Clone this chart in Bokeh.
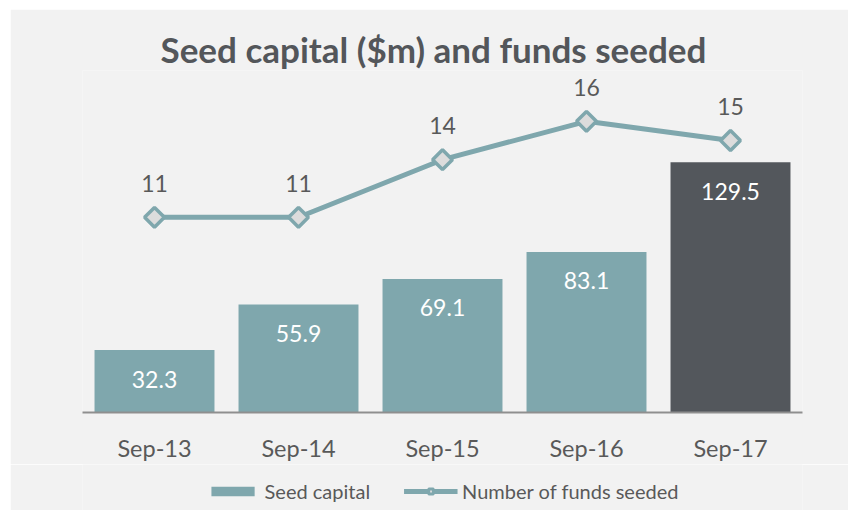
from bokeh.plotting import figure
from bokeh.models import Range1d, ColumnDataSource, Legend, LegendItem, FactorRange
from bokeh.layouts import column
from bokeh.core.properties import value
from bokeh.embed import file_html
from bokeh.resources import INLINE
import numpy as np

# ---- data ----
periods = ["Sep-13", "Sep-14", "Sep-15", "Sep-16", "Sep-17"]
seed_capital = [32.3, 55.9, 69.1, 83.1, 129.5]
funds_seeded = [11, 11, 14, 16, 15]
bar_colors = ["#7fa7ad", "#7fa7ad", "#7fa7ad", "#7fa7ad", "#53575c"]

FONT = "Lato"
TEXT = "#595959"
BG = "#f2f2f2"
TEAL = "#7fa7ad"

p = figure(
    x_range=FactorRange(*periods, range_padding=0),
    y_range=Range1d(0, 177),
    width=838, height=455,
    output_backend="svg", toolbar_location=None,
    min_border_left=72, min_border_right=46,
    min_border_top=61, min_border_bottom=52,
    background_fill_color=BG, border_fill_color=BG,
    outline_line_color=None,
)
p.extra_y_ranges = {"n": Range1d(0.833, 18.646)}

p.title.text = "Seed capital ($m) and funds seeded"
p.title.align = "left"
p.title.offset = 78
p.title.text_font = FONT
p.title.text_font_size = "35px"
p.title.text_font_style = "bold"
p.title.text_color = "#53565a"
p.title.standoff = 2

src = ColumnDataSource(dict(
    x=periods, y=seed_capital, c=bar_colors,
    lab=[f"{v:.1f}" for v in seed_capital],
))
p.vbar(x="x", top="y", width=0.833, fill_color="c", line_color=None, source=src)
p.text(x="x", y="y", text="lab", source=src, text_align="center",
       text_baseline="middle", y_offset=29, text_color="white",
       text_font_size="23px", text_font=value(FONT))

lsrc = ColumnDataSource(dict(x=periods, y=funds_seeded, lab=[str(v) for v in funds_seeded]))
p.line(x="x", y="y", source=lsrc, y_range_name="n", line_color=TEAL, line_width=5)
p.scatter(x="x", y="y", source=lsrc, y_range_name="n", marker="square",
          angle=np.pi / 4, size=14, fill_color="#dcdcdc",
          line_color=TEAL, line_width=3.5)
p.text(x="x", y="y", text="lab", source=lsrc, y_range_name="n",
       text_align="center", text_baseline="middle", y_offset=-34,
       text_color=TEXT, text_font_size="23px", text_font=value(FONT))

p.yaxis.visible = False
p.xgrid.grid_line_color = None
p.ygrid.grid_line_color = None
p.xaxis.axis_line_color = "#8f8f8f"
p.xaxis.axis_line_width = 2
p.xaxis.major_tick_line_color = None
p.xaxis.minor_tick_line_color = None
p.xaxis.major_tick_out = 0
p.xaxis.major_tick_in = 0
p.xaxis.major_label_text_font = FONT
p.xaxis.major_label_text_font_size = "23.5px"
p.xaxis.major_label_text_color = TEXT
p.xaxis.major_label_standoff = 21

# ---- legend strip ----
lg = figure(
    x_range=Range1d(0, 1), y_range=Range1d(0, 1),
    width=838, height=46,
    output_backend="svg", toolbar_location=None,
    min_border_left=72, min_border_right=46, min_border_top=0, min_border_bottom=0,
    background_fill_color=BG, border_fill_color=BG, outline_line_color=None,
)
lg.axis.visible = False
lg.grid.grid_line_color = None
off = ColumnDataSource(dict(x=[-5.0], y=[-5.0], t=[-5.0]))
lb = lg.vbar(x="x", top="t", width=0.5, fill_color=TEAL, line_color=None, source=off)
ll = lg.line(x="x", y="y", line_color=TEAL, line_width=5, source=off)
ls = lg.scatter(x="x", y="y", marker="square", angle=np.pi / 4, size=8,
                fill_color="#dcdcdc", line_color=TEAL, line_width=3, source=off)

legend = Legend(
    items=[LegendItem(label="Seed capital", renderers=[lb]),
           LegendItem(label="Number of funds seeded", renderers=[ll, ls])],
    orientation="horizontal", location="bottom",
    background_fill_alpha=0, border_line_color=None,
    label_text_font=FONT, label_text_font_size="20px", label_text_color=TEXT,
    glyph_width=54, glyph_height=12, spacing=33, padding=0, margin=7,
    label_standoff=5,
)
lg.add_layout(legend)

layout = column(p, lg, spacing=0, margin=(9, 0, 0, 10))

open("out.html", "w").write(file_html(layout, INLINE))
